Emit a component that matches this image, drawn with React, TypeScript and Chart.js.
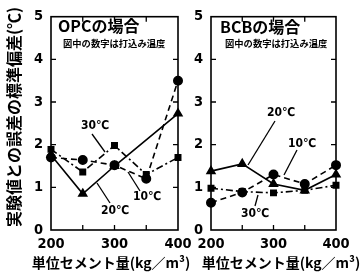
import React, { useEffect, useRef } from "react";
import { Chart, registerables } from "chart.js";

Chart.register(...registerables);

// ---- data ----
const cementContent = [200, 250, 300, 350, 400];
const xTickValues = [200, 300, 400];
const yTickValues = [0, 1, 2, 3, 4, 5];

const opc10 = [1.7, 1.64, 1.52, 1.2, 3.5];
const opc20 = [1.76, 0.85, 1.5, null, 2.73];
const opc30 = [1.89, 1.36, 1.98, 1.3, 1.7];

const bcb10 = [0.64, 0.88, 1.3, 1.08, 1.52];
const bcb20 = [1.38, 1.55, 1.08, 0.93, 1.3];
const bcb30 = [0.98, 0.9, 0.87, 0.93, 1.05];

const yTitle = "実験値との誤差の標準偏差(℃)";
const xTitle = "単位セメント量(kg／m³)";
const note = "図中の数字は打込み温度";

const FONT_NUM = '"DejaVu Sans Condensed", "DejaVu Sans", sans-serif';
const FONT_JP = '"Noto Sans CJK JP", "Noto Sans", sans-serif';

type Label = { text: string; x: number; y: number; lx1: number; ly1: number; lx2: number; ly2: number };

type Panel = {
  title: string;
  s10: (number | null)[];
  s20: (number | null)[];
  s30: (number | null)[];
  canvasW: number;
  axisW: number;
  padRight: number;
  titleX: number;
  titleY: number;
  noteX: number;
  labels: Label[];
  xTitleX: number;
  showYTitle: boolean;
};

const panels: Panel[] = [
  {
    title: "OPCの場合",
    s10: opc10,
    s20: opc20,
    s30: opc30,
    canvasW: 200,
    axisW: 51,
    padRight: 22,
    titleX: 58,
    titleY: 26,
    noteX: 63,
    xTitleX: 111,
    showYTitle: true,
    labels: [
      { text: "30℃", x: 95, y: 126, lx1: 92, ly1: 134, lx2: 105, ly2: 152 },
      { text: "20℃", x: 115, y: 211, lx1: 110, ly1: 203, lx2: 97, ly2: 183 },
      { text: "10℃", x: 147, y: 197, lx1: 140, ly1: 191, lx2: 128, ly2: 172 },
    ],
  },
  {
    title: "BCBの場合",
    s10: bcb10,
    s20: bcb20,
    s30: bcb30,
    canvasW: 180,
    axisW: 31,
    padRight: 24,
    titleX: 40,
    titleY: 27,
    noteX: 45,
    xTitleX: 101,
    showYTitle: false,
    labels: [
      { text: "20℃", x: 101, y: 113, lx1: 95, ly1: 121, lx2: 68, ly2: 165 },
      { text: "10℃", x: 122, y: 144, lx1: 117, ly1: 150, lx2: 104, ly2: 175 },
      { text: "30℃", x: 75, y: 214, lx1: 75, ly1: 206, lx2: 78, ly2: 195 },
    ],
  },
];

function makeOverlay(p: Panel) {
  return {
    id: "overlay",
    beforeDatasetsDraw(chart: any) {
      const { ctx, chartArea: a, scales } = chart;
      const x = scales.x;
      const y = scales.y;
      ctx.save();
      ctx.strokeStyle = "#000";
      ctx.lineWidth = 1.6;
      ctx.strokeRect(a.left, a.top, a.right - a.left, a.bottom - a.top);
      ctx.lineWidth = 1.3;
      ctx.beginPath();
      for (let v = 250; v < 400; v += 50) {
        const px = x.getPixelForValue(v);
        ctx.moveTo(px, a.top);
        ctx.lineTo(px, a.top + 5);
        ctx.moveTo(px, a.bottom);
        ctx.lineTo(px, a.bottom - 5);
      }
      for (let v = 1; v < 5; v++) {
        const py = y.getPixelForValue(v);
        ctx.moveTo(a.left, py);
        ctx.lineTo(a.left + 5, py);
        ctx.moveTo(a.right, py);
        ctx.lineTo(a.right - 5, py);
      }
      ctx.stroke();
      ctx.restore();
    },
    afterDraw(chart: any) {
      const { ctx } = chart;
      ctx.save();
      ctx.fillStyle = "#000";
      ctx.strokeStyle = "#000";
      // panel title
      ctx.textBaseline = "middle";
      ctx.textAlign = "left";
      ctx.font = `bold 16px ${FONT_JP}`;
      ctx.fillText(p.title, p.titleX, p.titleY);
      ctx.font = `bold 9.3px ${FONT_JP}`;
      ctx.fillText(note, p.noteX, 43);
      // temperature labels
      ctx.textAlign = "center";
      ctx.font = `bold 12px ${FONT_NUM}`;
      ctx.lineWidth = 1.3;
      for (const l of p.labels) {
        ctx.fillText(l.text, l.x, l.y);
        ctx.beginPath();
        ctx.moveTo(l.lx1, l.ly1);
        ctx.lineTo(l.lx2, l.ly2);
        ctx.stroke();
      }
      // x title
      ctx.font = `bold 14px ${FONT_JP}`;
      ctx.fillText(xTitle, p.xTitleX, 263);
      // y title
      if (p.showYTitle) {
        ctx.translate(14, 117);
        ctx.rotate(-Math.PI / 2);
        ctx.font = `bold 16px ${FONT_JP}`;
        ctx.fillText(yTitle, 0, 0);
      }
      ctx.restore();
    },
  };
}

function makeConfig(p: Panel): any {
  const mk = (vals: (number | null)[]) => cementContent.map((x, i) => ({ x, y: vals[i] }));
  const common = {
    borderColor: "#000",
    backgroundColor: "#000",
    pointBorderColor: "#000",
    pointBackgroundColor: "#000",
    borderWidth: 1.6,
    tension: 0,
    clip: false,
    spanGaps: true,
  };
  return {
    type: "line",
    data: {
      datasets: [
        { ...common, label: "10℃", data: mk(p.s10), borderDash: [6, 4], pointStyle: "circle", pointRadius: 4.2 },
        { ...common, label: "20℃", data: mk(p.s20), pointStyle: "triangle", pointRadius: 4.5 },
        { ...common, label: "30℃", data: mk(p.s30), borderDash: [7, 3, 2, 3], pointStyle: "rect", pointRadius: 3.8 },
      ],
    },
    options: {
      animation: false,
      responsive: false,
      maintainAspectRatio: false,
      layout: { padding: { top: 10, right: p.padRight, left: 0, bottom: 0 } },
      plugins: { legend: { display: false }, tooltip: { enabled: false }, title: { display: false } },
      scales: {
        x: {
          type: "linear",
          min: 200,
          max: 400,
          afterBuildTicks: (s: any) => {
            s.ticks = xTickValues.map((v) => ({ value: v }));
          },
          afterFit: (s: any) => {
            s.height = 46;
          },
          ticks: {
            autoSkip: false,
            maxRotation: 0,
            color: "#000",
            padding: 6,
            font: { family: FONT_NUM, size: 14.5, weight: "bold" },
          },
          grid: { display: false, drawTicks: false },
          border: { display: false },
        },
        y: {
          type: "linear",
          min: 0,
          max: 5,
          afterBuildTicks: (s: any) => {
            s.ticks = yTickValues.map((v) => ({ value: v }));
          },
          afterFit: (s: any) => {
            s.width = p.axisW;
          },
          ticks: {
            color: "#000",
            padding: 8,
            font: { family: FONT_NUM, size: 14.5, weight: "bold" },
          },
          grid: { display: false, drawTicks: false },
          border: { display: false },
        },
      },
    },
    plugins: [makeOverlay(p)],
  };
}

function PanelChart({ p, left }: { p: Panel; left: number }) {
  const ref = useRef<HTMLCanvasElement | null>(null);
  useEffect(() => {
    if (!ref.current) return;
    const chart = new Chart(ref.current, makeConfig(p));
    return () => chart.destroy();
  }, [p]);
  return (
    <canvas
      ref={ref}
      width={p.canvasW}
      height={276}
      style={{ position: "absolute", left, top: 0, width: p.canvasW, height: 276 }}
    />
  );
}

export default function App() {
  return (
    <div style={{ position: "fixed", left: 0, top: 0, width: 360, height: 276, background: "#fff", overflow: "hidden" }}>
      <PanelChart p={panels[0]} left={0} />
      <PanelChart p={panels[1]} left={180} />
    </div>
  );
}
